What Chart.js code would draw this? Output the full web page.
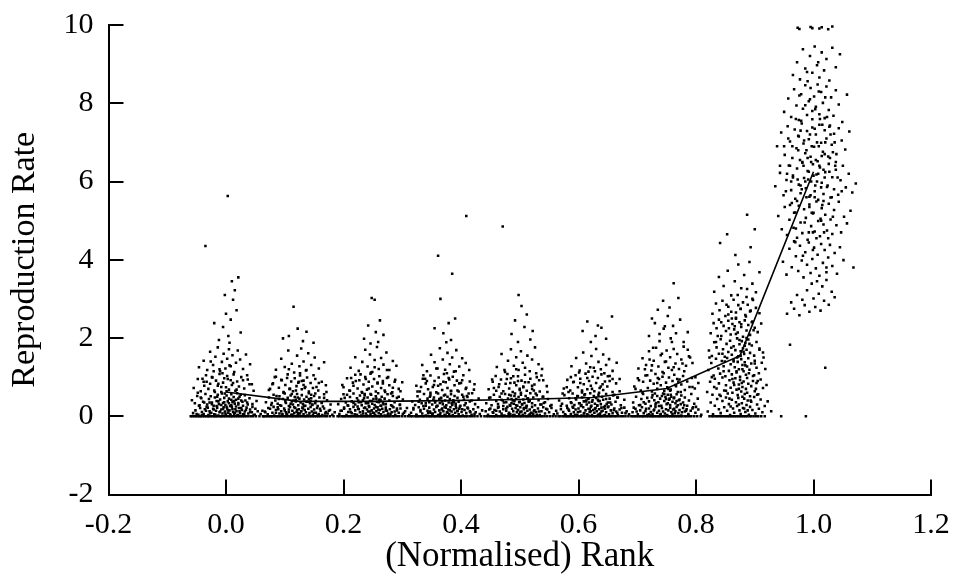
<!DOCTYPE html>
<html>
<head>
<meta charset="utf-8">
<script src="https://cdn.jsdelivr.net/npm/chart.js@4.4.1/dist/chart.umd.min.js"></script>
<style>
html,body{margin:0;padding:0;background:#fff;}
#wrap{width:957px;height:576px;}
</style>
</head>
<body>
<div id="wrap"><canvas id="c" width="957" height="576"></canvas></div>
<script>
// Rank position of each cluster and the mean reproduction rate drawn as the line
const rankCenters = [0, 0.125, 0.25, 0.375, 0.5, 0.625, 0.75, 0.875, 1.0];
const meanRate = [0.62, 0.38, 0.38, 0.40, 0.43, 0.48, 0.71, 1.55, 6.25];
const xTickLabels = ['-0.2','0.0','0.2','0.4','0.6','0.8','1.0','1.2'];
const yTickLabels = ['-2','0','2','4','6','8','10'];

// Individual samples per cluster:
// pairs of [rank offset in thousandths, rate in hundredths]
const samples0 = [
-60,0,-57,0,-54,0,-51,0,-48,0,-45,0,-43,0,-40,0,-37,0,-34,0,-31,0,-29,0,-26,0,-23,0,-20,0,-18,0,-15,0,-12,0,-9,0,-7,0,-4,0,-1,0,2,0,5,0,8,0,10,0,13,0,16,0,19,0,22,0,25,0,28,0,31,0,34,0,38,0,42,0,46,0,51,0,57,0,63,0,
-56,8,-52,15,-47,4,-44,21,-41,11,-38,6,-36,18,-33,24,-30,3,-28,13,-25,9,-22,19,-20,5,-17,14,-15,22,-13,2,-11,10,-8,17,-6,7,-4,23,-2,12,0,4,2,20,4,9,6,15,8,2,10,24,12,11,14,6,16,18,18,13,20,3,22,21,24,8,27,16,29,5,32,12,35,22,38,7,41,17,44,10,47,3,50,19,54,13,59,6,62,14,
-58,41,-53,33,-49,52,-45,28,-42,46,-39,37,-35,57,-32,30,-29,44,-26,51,-24,35,-21,27,-19,48,-16,39,-14,55,-12,31,-10,43,-7,58,-5,34,-3,47,-1,29,1,53,3,38,5,45,7,26,9,56,11,36,13,49,15,32,17,42,19,59,21,30,23,50,26,40,29,27,32,54,36,35,40,46,45,31,52,39,
-55,72,-48,95,-43,64,-38,88,-34,105,-30,70,-27,83,-23,99,-20,66,-17,91,-14,78,-11,108,-8,62,-5,86,-3,97,0,74,2,103,5,68,8,92,10,80,13,107,16,65,19,89,22,76,26,100,31,71,37,94,44,82,
-46,125,-38,142,-32,118,-27,165,-22,131,-18,152,-14,176,-10,115,-7,139,-4,160,-1,122,2,147,5,171,8,128,11,156,14,113,17,137,20,168,24,145,29,121,34,158,41,133,
-35,435,3,563,-12,195,-5,228,0,262,4,205,8,247,12,298,15,322,18,271,21,355,25,214,-20,238,10,345,6,188,-2,310,
-50,6,-46,27,-41,3,-37,35,-34,14,-31,22,-27,8,-24,31,-21,17,-18,4,-16,26,-13,38,-10,12,-8,29,-5,19,-3,36,-1,7,1,24,3,15,5,33,7,5,9,28,11,18,13,39,15,9,17,25,19,2,21,34,23,13,26,21,28,37,31,6,34,16,37,30,41,11,45,24,49,4,
-43,48,12,85,-19,62,33,40,-6,110,25,55,-37,78,3,95,-28,35,18,68,-11,120,40,82,-2,58,-48,60,9,42,-24,100,29,92,-15,50,6,130,-33,88,21,45,-8,75,47,65,-21,115,14,38,-40,96,1,64,36,105,-13,83,-26,140
];
const samples1 = [
-61,0,-58,0,-55,0,-52,0,-49,0,-47,0,-44,0,-41,0,-38,0,-36,0,-33,0,-30,0,-27,0,-24,0,-22,0,-19,0,-16,0,-13,0,-11,0,-8,0,-5,0,-3,0,0,0,3,0,6,0,9,0,11,0,14,0,17,0,20,0,23,0,26,0,29,0,32,0,35,0,39,0,43,0,47,0,52,0,58,0,
-59,12,-54,5,-50,19,-46,9,-43,2,-40,16,-37,23,-34,7,-31,13,-29,3,-26,20,-23,10,-21,6,-18,17,-16,24,-14,4,-12,14,-9,8,-7,21,-5,11,-3,3,-1,18,1,7,3,13,5,22,7,5,9,16,11,10,13,2,15,19,17,8,19,24,21,12,23,4,25,17,28,9,30,21,33,6,36,14,39,3,42,20,45,11,48,7,52,16,56,4,60,10,
-57,36,-52,48,-48,29,-44,55,-41,40,-37,32,-34,51,-31,27,-28,44,-25,58,-23,34,-20,47,-18,26,-15,53,-13,38,-11,30,-8,49,-6,42,-4,57,-2,28,0,45,2,35,4,54,6,31,8,43,10,27,12,50,14,37,16,59,18,33,20,46,22,29,25,52,28,39,31,26,34,48,38,34,42,56,47,41,53,30,
-52,67,-45,84,-40,101,-35,73,-31,93,-27,62,-24,80,-20,107,-17,70,-14,89,-11,64,-8,97,-5,77,-2,86,1,104,4,69,7,91,10,75,13,99,16,63,19,85,23,72,27,95,32,66,38,88,45,79,
-40,119,-31,147,-25,126,-19,168,-13,134,-9,112,-4,155,0,128,3,173,7,140,11,117,15,161,20,131,26,150,33,122,42,138,
-10,280,-18,205,-3,224,6,192,12,216,24,188,-28,199,
-53,21,-12,4,27,33,-40,9,8,26,-25,15,44,7,-6,38,16,2,-33,28,-18,11,35,19,-47,34,3,13,-29,6,22,30,-9,23,50,14,-2,8,12,37,-36,18,31,3,-15,32,6,20,-22,5,40,25,-58,10,19,39,-4,16,25,9,-44,24,
20,55,-35,44,4,90,-16,70,38,36,-46,82,-3,48,12,118,-27,60,29,75,-10,40,46,62,-21,98,7,80,-39,52,24,105,-6,66,-30,92,16,44,-50,70,33,85,-13,57,1,110,-24,38,42,47,9,72,-42,100,27,58,-1,88,-18,120
];
const samples2 = [
-60,0,-57,0,-53,0,-50,0,-48,0,-45,0,-42,0,-39,0,-37,0,-34,0,-31,0,-28,0,-26,0,-23,0,-20,0,-18,0,-15,0,-12,0,-10,0,-7,0,-4,0,-1,0,1,0,4,0,7,0,10,0,12,0,15,0,18,0,21,0,24,0,27,0,30,0,34,0,37,0,41,0,45,0,50,0,55,0,60,0,
-57,6,-53,14,-49,22,-45,3,-42,11,-39,18,-36,8,-33,24,-30,15,-27,4,-25,19,-22,10,-20,2,-17,13,-15,21,-12,7,-10,17,-8,12,-6,24,-4,5,-2,15,0,9,2,20,4,3,6,13,8,23,10,8,12,16,14,5,16,19,18,11,20,2,22,22,24,14,26,7,29,18,32,10,35,23,38,4,41,15,44,9,47,20,51,6,55,13,58,21,62,3,
-59,31,-54,44,-50,56,-46,35,-42,27,-39,49,-36,38,-33,58,-30,30,-27,46,-24,36,-22,53,-19,28,-17,41,-14,57,-12,33,-9,48,-7,26,-5,39,-3,55,-1,32,1,44,3,29,5,51,7,37,9,59,11,42,13,27,15,50,17,35,20,45,22,31,25,56,28,40,31,28,34,52,37,36,41,47,46,30,51,43,
-50,74,-44,97,-39,65,-34,86,-30,106,-26,71,-23,92,-19,62,-16,81,-13,100,-10,68,-7,88,-4,109,-1,76,2,95,5,63,8,84,11,102,14,72,17,90,20,66,24,98,28,79,33,61,38,93,44,70,50,87,
-38,124,-30,151,-24,116,-18,139,-13,170,-9,127,-5,158,-1,113,3,144,7,177,10,121,14,149,18,132,23,163,28,118,34,141,40,129,
-2,302,3,298,-8,232,5,215,12,245,-15,198,9,190,18,208,-4,186,
14,27,-31,5,-8,33,37,12,-49,19,2,8,-20,36,25,3,-13,22,46,29,-38,11,9,17,-2,39,30,6,-26,25,-55,14,18,31,-10,2,41,20,-33,34,5,24,-17,7,22,15,-43,28,53,9,-5,12,11,37,-24,18,33,26,
-40,66,6,45,-12,95,31,58,-25,40,17,84,-3,112,44,50,-33,78,10,36,-18,60,26,100,-7,71,-48,47,37,88,-14,53,3,125,-29,90,21,62,-52,80,13,42,-21,107,34,73,-4,57,-37,98,47,64,8,86,-15,46,24,118,-44,55
];
const samples3 = [
-61,0,-58,0,-54,0,-51,0,-49,0,-46,0,-43,0,-40,0,-38,0,-35,0,-32,0,-29,0,-27,0,-24,0,-21,0,-19,0,-16,0,-13,0,-10,0,-8,0,-5,0,-2,0,0,0,3,0,6,0,9,0,12,0,14,0,17,0,20,0,23,0,26,0,30,0,33,0,36,0,40,0,44,0,48,0,53,0,59,0,
-60,9,-56,17,-51,4,-47,23,-44,12,-41,7,-38,19,-35,2,-32,14,-29,22,-27,9,-24,5,-21,17,-19,11,-17,24,-14,3,-12,15,-10,8,-7,20,-5,13,-3,4,-1,22,1,10,3,17,5,6,7,23,9,12,11,3,13,18,15,9,17,21,19,14,21,5,23,24,26,11,28,2,31,16,34,8,37,20,40,13,43,4,46,18,50,10,54,23,57,6,61,15,
-58,38,-53,29,-49,51,-45,42,-42,33,-38,57,-35,27,-32,45,-29,36,-27,54,-24,30,-21,48,-19,39,-16,26,-14,58,-11,34,-9,46,-6,31,-4,53,-2,40,0,28,2,50,4,35,6,44,8,56,10,29,12,41,14,52,16,32,19,47,21,37,24,27,27,55,30,43,33,33,36,49,40,38,44,59,49,31,55,45,
-51,78,-45,63,-40,96,-35,84,-31,69,-27,104,-23,75,-20,90,-17,61,-13,99,-10,82,-7,67,-4,108,-1,87,2,72,5,94,8,65,11,101,14,79,18,91,21,63,25,85,29,105,34,73,40,89,47,68,
-41,131,-33,115,-26,157,-20,138,-15,122,-11,174,-6,145,-2,119,2,162,6,133,10,150,13,114,17,169,22,127,27,148,33,136,39,118,
-14,410,10,364,34,512,-10,300,-5,212,4,238,8,195,-20,225,15,250,0,189,
-44,16,10,31,-23,7,36,22,-7,38,-51,3,19,13,-15,27,2,9,-35,33,27,18,-3,24,48,6,-28,12,13,36,-11,4,31,28,-56,21,6,15,-19,35,41,10,-39,26,-1,2,22,19,-31,8,9,34,-8,17,16,26,-47,37,
8,64,-28,50,27,92,-14,78,43,40,-39,105,-2,55,16,115,-22,42,33,70,-49,63,4,98,-9,47,22,84,-33,90,38,58,-17,122,12,37,-43,75,29,50,-5,88,-27,60,48,82,1,110,-12,44,19,66,-36,96,35,52,-21,80
];
const samples4 = [
-60,0,-56,0,-53,0,-50,0,-47,0,-44,0,-42,0,-39,0,-36,0,-33,0,-30,0,-28,0,-25,0,-22,0,-19,0,-17,0,-14,0,-11,0,-9,0,-6,0,-3,0,0,0,2,0,5,0,8,0,11,0,13,0,16,0,19,0,22,0,25,0,28,0,31,0,35,0,38,0,42,0,46,0,51,0,56,0,61,0,
-58,13,-54,4,-50,20,-46,10,-43,16,-40,3,-37,22,-34,12,-31,7,-28,18,-26,2,-23,14,-21,24,-18,9,-16,5,-13,19,-11,13,-9,3,-7,21,-5,10,-3,16,-1,6,1,23,3,12,5,4,7,18,9,8,11,22,13,14,15,2,17,17,19,9,21,24,23,6,25,15,28,11,31,20,34,3,37,13,40,23,43,7,47,17,50,10,54,21,58,5,62,14,
-57,33,-52,47,-48,28,-44,55,-40,39,-37,31,-34,50,-31,42,-28,26,-25,57,-23,36,-20,45,-17,29,-15,53,-12,40,-10,32,-8,58,-6,44,-4,27,-2,49,0,37,2,55,4,30,6,43,8,34,10,52,12,27,14,46,16,38,18,59,21,33,23,48,26,28,29,54,32,41,35,30,39,50,43,36,48,44,54,29,
-53,69,-46,88,-41,103,-36,75,-32,94,-28,64,-24,83,-21,108,-18,71,-15,97,-12,62,-9,86,-6,79,-3,102,0,67,3,91,6,74,9,106,12,65,15,87,18,96,21,70,25,81,29,100,34,63,40,92,46,77,
-39,126,-31,159,-25,113,-20,142,-15,171,-10,129,-6,151,-2,118,2,166,5,137,9,124,13,155,17,115,21,145,26,176,32,133,38,121,
-29,485,-2,310,3,282,-8,245,8,228,-14,210,12,260,18,196,-3,190,22,218,
7,21,-27,35,-45,9,24,13,-11,3,37,30,-3,16,-36,24,15,38,-19,6,45,19,-6,28,1,11,-52,17,29,4,-14,33,11,25,-30,2,52,26,-1,36,20,8,-40,14,4,31,-23,20,33,12,-9,39,17,5,-16,27,41,34,
-31,58,9,87,-14,44,28,110,-44,72,2,60,-22,95,40,50,-6,120,17,40,-35,82,24,66,-11,102,-50,48,6,76,33,92,-18,55,47,62,-26,118,13,45,-3,90,-40,65,21,78,-9,52,37,104,-29,40,0,70,-16,85,27,58,-47,94
];
const samples5 = [
-59,0,-56,0,-52,0,-49,0,-46,0,-44,0,-41,0,-38,0,-35,0,-33,0,-30,0,-27,0,-24,0,-21,0,-19,0,-16,0,-13,0,-11,0,-8,0,-5,0,-2,0,1,0,3,0,6,0,9,0,12,0,14,0,17,0,20,0,23,0,26,0,29,0,32,0,36,0,39,0,43,0,47,0,51,0,55,0,60,0,
-61,7,-55,18,-51,11,-47,3,-44,21,-41,14,-38,6,-35,24,-33,10,-30,17,-27,4,-25,20,-22,12,-20,2,-17,23,-15,8,-13,15,-10,5,-8,19,-6,11,-4,24,-2,3,0,16,2,9,4,21,6,13,8,4,10,18,12,7,14,22,16,14,18,2,20,19,22,10,25,23,27,5,30,15,33,8,36,20,39,12,42,3,45,17,49,9,53,22,57,13,61,5,
-58,40,-53,32,-49,54,-45,27,-41,46,-38,36,-35,58,-32,29,-29,43,-26,51,-24,33,-21,26,-19,48,-16,38,-14,56,-11,30,-9,44,-7,35,-5,59,-3,27,-1,41,1,52,3,32,5,47,7,28,9,55,11,39,13,31,15,50,17,42,20,26,22,57,25,35,28,45,31,30,34,53,38,37,42,48,47,28,53,42,
-50,71,-44,93,-39,66,-34,87,-30,105,-26,74,-22,96,-19,61,-16,82,-13,109,-10,69,-7,90,-4,78,-1,101,2,64,5,85,8,98,11,72,14,107,17,67,20,89,24,76,28,103,33,62,39,84,45,95,
-37,128,-29,149,-23,117,-17,163,-12,135,-8,114,-3,154,1,124,5,172,9,139,13,120,17,158,22,131,27,146,33,116,40,137,
32,255,-10,242,4,205,-18,218,14,226,-4,190,22,198,8,232,
-20,29,11,6,-42,17,29,35,-4,13,-31,4,18,23,-12,38,41,9,-55,26,3,19,-26,11,23,31,-8,2,35,16,-37,34,7,27,-16,7,48,21,-2,37,14,12,-48,5,26,25,-23,33,-6,18,55,8,9,39,-34,22,20,3,
10,60,-33,88,-8,45,25,102,-19,66,41,48,-45,74,3,115,-27,52,16,82,-12,40,33,95,-2,70,-52,58,19,110,-22,85,8,42,-38,100,45,64,-15,54,28,90,-5,125,-30,46,13,76,-42,62,36,55,-10,98,22,44,-24,112
];
const samples6 = [
-60,0,-57,0,-54,0,-51,0,-48,0,-45,0,-42,0,-40,0,-37,0,-34,0,-31,0,-28,0,-25,0,-23,0,-20,0,-17,0,-14,0,-12,0,-9,0,-6,0,-3,0,0,0,3,0,6,0,9,0,12,0,15,0,18,0,21,0,24,0,27,0,31,0,34,0,38,0,42,0,47,0,52,0,58,0,
-58,10,-53,19,-49,5,-45,15,-42,23,-39,8,-36,13,-33,3,-30,20,-27,11,-24,6,-21,17,-19,24,-16,9,-13,14,-11,4,-8,21,-6,12,-3,7,-1,18,1,3,3,15,6,22,8,10,10,5,13,19,15,13,17,24,20,8,22,16,25,2,28,21,31,12,34,18,37,6,41,14,45,23,49,9,54,17,59,4,
-57,35,-52,50,-47,28,-43,44,-40,57,-36,32,-33,47,-30,38,-27,26,-24,54,-21,41,-19,30,-16,52,-14,36,-11,45,-9,27,-6,58,-4,39,-2,49,0,31,2,55,4,42,6,29,8,50,10,37,12,46,15,33,17,56,19,28,22,43,25,53,28,35,31,48,35,27,38,40,42,57,47,32,53,45,
-55,76,-49,97,-44,66,-40,88,-36,104,-32,72,-28,91,-25,63,-22,83,-19,108,-16,70,-13,95,-10,79,-7,101,-4,65,-1,86,1,74,4,99,7,68,10,90,13,106,16,77,19,62,22,94,25,81,28,103,31,67,35,89,39,75,43,98,48,71,54,85,
-48,122,-41,148,-35,131,-30,166,-26,117,-22,142,-18,175,-14,127,-10,156,-7,113,-3,139,0,168,3,124,6,151,9,118,12,172,15,135,18,159,21,121,25,145,29,178,33,129,38,153,44,136,
-30,205,-20,238,-12,192,-5,224,2,256,7,199,11,231,16,212,23,247,29,190,-25,250,36,215,
12,340,-6,295,5,278,20,302,-15,272,
5,45,-22,15,30,28,-39,36,14,8,-8,52,44,20,-30,5,21,41,-13,26,-51,12,2,33,37,3,-4,57,11,17,-25,48,26,10,-45,29,17,39,-10,6,50,24,-35,19,7,55,-18,34,33,14,-1,44,-28,2,24,31,-56,22,13,48,
3,70,-25,130,18,95,-41,60,-8,160,30,115,-16,85,9,190,-33,105,44,75,-1,140,24,62,-47,92,12,125,-20,58,36,170,-5,110,-29,145,15,80,49,100,-12,210,27,135,-37,120,6,65,-23,175,40,150,-53,70,20,88,-3,230,-15,98
];
const samples7 = [
-52,0,-48,0,-45,0,-41,0,-38,0,-34,0,-31,0,-27,0,-24,0,-21,0,-18,0,-15,0,-12,0,-9,0,-6,0,-3,0,0,0,3,0,6,0,9,0,12,0,16,0,19,0,23,0,27,0,31,0,36,0,42,0,
-55,12,-50,35,-46,5,-43,27,-39,44,-36,18,-33,8,-30,39,-27,23,-24,48,-22,14,-19,31,-17,3,-14,42,-12,20,-10,9,-7,36,-5,26,-3,47,-1,15,1,6,3,33,5,21,7,45,9,11,11,29,13,40,15,4,17,24,19,37,21,16,24,49,26,7,29,30,32,19,35,43,38,10,42,26,47,38,53,13,
-56,62,-51,88,-47,55,-43,96,-40,71,-36,84,-33,52,-30,99,-27,66,-24,79,-21,58,-18,92,-16,73,-13,60,-11,86,-8,97,-6,68,-4,54,-2,81,0,93,2,63,4,75,6,89,8,57,10,70,12,98,14,83,17,51,19,77,22,90,25,64,28,85,31,56,35,94,39,72,45,80,
-54,118,-49,136,-45,104,-41,147,-37,122,-34,109,-31,141,-28,128,-25,102,-22,149,-19,116,-16,133,-14,107,-11,144,-9,125,-6,112,-4,139,-2,120,0,101,2,146,4,131,6,115,8,138,10,106,12,127,14,148,16,119,19,135,22,103,25,142,28,124,32,110,37,137,43,121,
-53,168,-48,154,-44,189,-40,176,-36,160,-33,197,-29,171,-26,152,-23,185,-20,164,-17,193,-14,157,-11,179,-8,169,-5,199,-3,153,-1,184,1,166,3,192,5,174,7,159,9,187,11,170,14,196,17,162,20,181,24,155,28,190,33,173,39,163,
-50,212,-45,238,-40,225,-36,247,-32,205,-28,231,-24,218,-20,244,-16,209,-13,236,-10,222,-7,249,-4,214,-1,240,2,228,5,203,8,245,11,219,14,233,17,208,21,242,25,226,30,215,36,237,
-47,262,-41,288,-35,271,-30,295,-25,256,-20,280,-15,267,-11,298,-7,252,-3,284,1,274,5,291,9,259,13,285,17,268,22,297,27,277,33,263,
-44,318,-36,356,-28,333,-21,372,-15,309,-9,345,-3,388,2,327,7,361,11,305,16,394,21,339,27,317,33,368,
-34,443,-8,412,12,515,25,478,-22,465,18,432,
-18,45,4,120,-7,210,12,60,-30,160,20,240,-2,30,8,180,-13,95,25,135,-24,65,1,275,15,110,-38,205,-5,150,10,255,-16,25,30,90,-9,230,6,165,-28,115,18,40,-1,195,-44,75,23,220,-11,140,3,85,-20,260,13,15,
-35,55,9,130,-14,250,27,70,-4,310,16,185,-26,140,4,50,-48,100,21,300,-10,80,33,170,-19,225,1,155,12,325,-41,190,24,105,-7,265,7,20,-23,285,40,150,-2,70,18,270,-32,240,11,200,-15,175,29,55,-52,150,2,235,-6,115
];
const samples8 = [
-45,262,-38,291,-33,275,-28,310,-24,258,-19,298,-15,284,-11,322,-7,267,-3,339,0,301,3,279,6,345,9,313,12,270,15,332,18,295,22,348,26,285,31,318,36,304,68,380,
-52,395,-46,362,-41,428,-37,381,-33,447,-30,409,-26,371,-23,436,-20,398,-17,355,-14,419,-11,387,-8,444,-5,366,-2,402,1,431,4,378,7,413,10,359,13,440,16,392,19,425,22,368,25,406,28,438,32,384,36,417,40,364,45,432,51,399,
-60,512,-54,478,-49,535,-45,463,-41,502,-37,545,-34,482,-31,521,-28,456,-25,538,-22,495,-19,468,-16,529,-13,507,-10,451,-7,541,-4,486,-1,518,2,472,5,549,8,499,11,460,14,532,17,490,20,515,23,475,26,543,29,503,32,466,35,527,39,488,43,548,47,470,52,510,57,493,63,525,
-65,588,-57,622,-51,565,-46,604,-42,641,-38,578,-35,615,-31,556,-28,633,-25,592,-22,570,-19,648,-16,609,-13,583,-10,627,-7,561,-4,600,-1,644,2,575,5,618,8,553,11,636,14,597,17,568,20,624,23,586,26,645,29,559,32,611,35,580,38,630,42,566,46,603,50,640,55,585,60,620,66,572,72,595,
-62,690,-55,725,-49,668,-44,741,-40,702,-36,660,-32,733,-29,685,-26,717,-23,655,-20,748,-17,697,-14,672,-11,729,-8,708,-5,663,-2,738,1,689,4,720,7,652,10,745,13,699,16,676,19,731,22,710,25,664,28,743,31,694,35,722,39,670,43,736,48,705,54,682,61,728,
-50,778,-43,812,-38,765,-33,836,-29,794,-25,757,-21,823,-18,786,-14,846,-11,770,-8,805,-5,839,-2,759,1,817,4,791,7,848,10,772,13,829,16,801,19,762,22,843,26,783,30,815,34,768,38,833,43,797,49,752,57,822,
-35,872,-28,905,-23,861,-18,938,-14,889,-10,856,-6,921,-2,878,2,945,6,897,10,866,14,930,18,884,22,913,27,858,32,942,38,892,45,925,
-27,993,-24,990,-5,995,-2,992,10,991,14,994,25,989,32,996,
-40,183,20,124,-55,0,-13,0,
-12,560,8,620,-30,480,20,700,-4,650,15,540,-22,730,3,590,-8,470,28,660,-35,610,11,760,-17,640,0,520,24,590,-26,680,6,700,-40,540,17,630,-2,780,33,510,-14,600,9,690,-20,580,38,650,-6,720,13,500,-45,620,2,560,27,740,-10,660,-28,550,19,610,-1,470,
-18,410,5,455,-33,520,22,380,-9,605,14,665,-25,715,31,560,-3,690,9,830,-40,640,18,470,-14,795,2,735,-22,590,27,625,-7,535,12,505,-30,760,36,700,-11,880,6,600,-47,575,20,815,-1,425,-36,690,15,745,-19,650,41,610,-5,565,25,455,-27,605,10,640,-15,495,3,785,-43,710,33,675,-8,625,17,550,-24,820,8,905,-57,640,29,720,-12,680,0,615,-31,445,23,765,-3,520,48,575,-21,755,13,585,-38,600,4,655,-16,705,37,640,-6,810,19,670,-50,690
];
const allSamples = [samples0, samples1, samples2, samples3, samples4, samples5, samples6, samples7, samples8];

// Build point objects (unit conversion only)
const scatterPoints = [];
allSamples.forEach((arr, k) => {
  for (let i = 0; i + 1 < arr.length; i += 2) {
    scatterPoints.push({x: rankCenters[k] + arr[i] / 1000, y: arr[i + 1] / 100});
  }
});
const linePoints = rankCenters.map((r, i) => ({x: r, y: meanRate[i]}));

const FONT = "'Liberation Serif', 'Times New Roman', serif";

const inwardTicks = {
  id: 'inwardTicks',
  afterDraw(chart) {
    const {ctx, chartArea} = chart;
    const xs = chart.scales.x, ys = chart.scales.y;
    ctx.save();
    ctx.strokeStyle = '#000';
    ctx.lineWidth = 2;
    xs.ticks.forEach(t => {
      const px = Math.round(xs.getPixelForValue(t.value));
      ctx.beginPath();
      ctx.moveTo(px, chartArea.bottom);
      ctx.lineTo(px, chartArea.bottom - 15);
      ctx.stroke();
    });
    ys.ticks.forEach(t => {
      const py = Math.round(ys.getPixelForValue(t.value));
      ctx.beginPath();
      ctx.moveTo(chartArea.left, py);
      ctx.lineTo(chartArea.left + 15, py);
      ctx.stroke();
    });
    ctx.restore();
  }
};

new Chart(document.getElementById('c'), {
  type: 'scatter',
  data: {
    datasets: [
      {
        type: 'line',
        data: linePoints,
        borderColor: '#000',
        borderWidth: 1.6,
        pointRadius: 0,
        fill: false,
        tension: 0,
        order: 0
      },
      {
        data: scatterPoints,
        pointStyle: 'rect',
        pointRadius: 1.8,
        backgroundColor: '#000',
        borderWidth: 0,
        order: 1
      }
    ]
  },
  options: {
    responsive: false,
    animation: false,
    events: [],
    layout: {padding: {top: 25, right: 26, left: 0, bottom: 0}},
    plugins: {legend: {display: false}, tooltip: {enabled: false}},
    scales: {
      x: {
        type: 'linear',
        min: -0.2, max: 1.2,
        afterFit(s) { s.height = 81.5; s.paddingLeft = 0; s.paddingRight = 0; },
        afterBuildTicks(s) { s.ticks = xTickLabels.map(v => ({value: parseFloat(v)})); },
        ticks: {
          padding: 13,
          color: '#000',
          font: {family: FONT, size: 30},
          maxRotation: 0,
          autoSkip: false,
          callback: (v, i) => xTickLabels[i]
        },
        grid: {drawOnChartArea: false, drawTicks: false},
        border: {display: true, color: '#000', width: 2},
        title: {
          display: true,
          text: '(Normalised) Rank',
          color: '#000',
          font: {family: FONT, size: 35, lineHeight: 1.1},
          padding: {top: 0, bottom: 0}
        }
      },
      y: {
        type: 'linear',
        min: -2, max: 10,
        afterFit(s) { s.width = 108.5; s.paddingTop = 0; s.paddingBottom = 0; },
        afterBuildTicks(s) { s.ticks = yTickLabels.map(v => ({value: parseFloat(v)})); },
        ticks: {
          padding: 15,
          color: '#000',
          font: {family: FONT, size: 30},
          autoSkip: false,
          callback: (v, i) => yTickLabels[i]
        },
        grid: {drawOnChartArea: false, drawTicks: false},
        border: {display: true, color: '#000', width: 2},
        title: {
          display: true,
          text: 'Reproduction Rate',
          color: '#000',
          font: {family: FONT, size: 34, lineHeight: 1.1},
          padding: {top: 6, bottom: 0}
        }
      }
    }
  },
  plugins: [inwardTicks]
});
</script>
</body>
</html>
